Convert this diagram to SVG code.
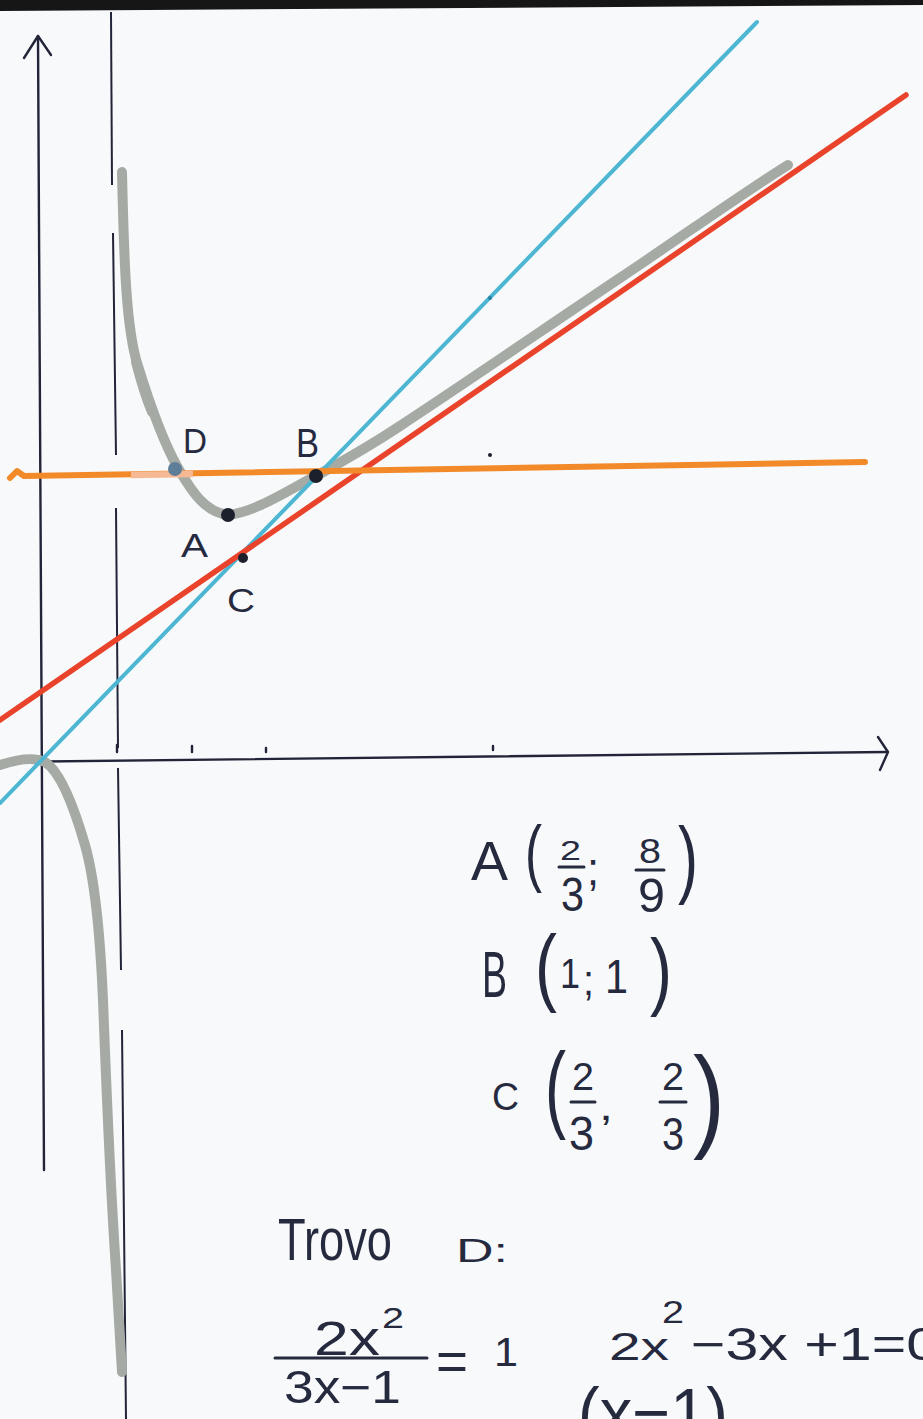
<svg xmlns="http://www.w3.org/2000/svg" width="923" height="1419" viewBox="0 0 923 1419">
<style>
.ink{fill:#262a3f;font-family:"Liberation Sans","DejaVu Sans",sans-serif}
.ax{stroke:#22253a;stroke-width:2.4;fill:none;stroke-linecap:round;stroke-linejoin:round}
.asy{stroke:#22253a;stroke-width:2;fill:none}
.curve{stroke:#a6aaa4;stroke-width:10;fill:none;stroke-linecap:round;stroke-linejoin:round}
.bar{stroke:#262a3f;stroke-width:3;stroke-linecap:round}
</style>
<rect width="923" height="1419" fill="#f8f9fa"/>
<polygon points="0,0 923,0 923,5 0,11" fill="#161616"/>

<g id="asymptote">
<line class="asy" x1="111" y1="12" x2="112" y2="185"/>
<line class="asy" x1="113" y1="233" x2="116" y2="455"/>
<line class="asy" x1="116" y1="508" x2="118" y2="748"/>
<line class="asy" x1="118" y1="768" x2="121" y2="970"/>
<line class="asy" x1="122" y1="1030" x2="126" y2="1419"/>
</g>

<g id="axes">
<path class="ax" d="M38,36 L44,1170"/>
<path class="ax" d="M24,58 L38,36 L51,55"/>
<path class="ax" d="M0,762 L886,752"/>
<path class="ax" d="M878,737 L888,752 L880,770"/>
<path class="ax" d="M117,752 V745 M192,752 V746 M266,752 V748 M493,750 V746"/>
</g>

<g id="curve">
<path class="curve" d="M122,172 C124,260 126,330 138,366 C150,405 165,445 178,468 C192,492 205,512 228,515 C255,512 285,492 316,476 C345,460 370,446 400,426 C470,380 560,318 620,278 C680,238 740,195 788,165"/>
<path class="curve" d="M136,362 C142,385 146,398 152,412" stroke="#8f948e"/>
<path class="curve" d="M0,765 C15,760 32,756 45,762 C58,770 72,800 85,845 C95,880 100,930 103,1000 C106,1080 110,1180 116,1270 L122,1372"/>
</g>

<g id="lines">
<line x1="0" y1="803" x2="757" y2="22" stroke="#4db6d3" stroke-width="4" stroke-linecap="round"/>
<line x1="0" y1="720" x2="906" y2="95" stroke="#e9432b" stroke-width="5.5" stroke-linecap="round"/>
<path d="M10,478 L17,471 L24,476 L865,462" stroke="#f28a2a" stroke-width="6" fill="none" stroke-linecap="round" stroke-linejoin="round"/>
<line x1="131" y1="475" x2="193" y2="474" stroke="#f7b994" stroke-width="6.5"/>
</g>

<g id="points">
<circle id="D" cx="175" cy="469" r="7" fill="#5d7d99"/>
<circle id="A" cx="228" cy="515" r="7" fill="#1c1f2c"/>
<circle id="B" cx="316" cy="476" r="7" fill="#1c1f2c"/>
<circle id="C" cx="243" cy="558" r="5" fill="#1c1f2c"/>
<circle cx="490" cy="455" r="2" fill="#1c1f2c"/>
<circle cx="490" cy="298" r="2" fill="#2a7fa0"/>
</g>

<g id="labels">
<text class="ink" x="183" y="453" font-size="35" textLength="24" lengthAdjust="spacingAndGlyphs">D</text>
<text class="ink" x="296" y="457" font-size="41" textLength="23" lengthAdjust="spacingAndGlyphs">B</text>
<text class="ink" x="181" y="557" font-size="33" textLength="27" lengthAdjust="spacingAndGlyphs">A</text>
<text class="ink" x="227" y="612" font-size="34" textLength="28" lengthAdjust="spacingAndGlyphs">C</text>
</g>

<g id="coordA">
<text class="ink" x="471" y="880" font-size="56" textLength="37" lengthAdjust="spacingAndGlyphs">A</text>
<text class="ink" x="525" y="878" font-size="75" textLength="17" lengthAdjust="spacingAndGlyphs">(</text>
<text class="ink" x="560" y="860" font-size="28" textLength="21" lengthAdjust="spacingAndGlyphs">2</text>
<line class="bar" x1="559" y1="867" x2="584" y2="867"/>
<text class="ink" x="561" y="911" font-size="48" textLength="23" lengthAdjust="spacingAndGlyphs">3</text>
<text class="ink" x="587" y="885" font-size="46" textLength="12" lengthAdjust="spacingAndGlyphs">;</text>
<text class="ink" x="639" y="863" font-size="35" textLength="22" lengthAdjust="spacingAndGlyphs">8</text>
<line class="bar" x1="636" y1="870" x2="664" y2="870"/>
<text class="ink" x="638" y="912" font-size="48" textLength="27" lengthAdjust="spacingAndGlyphs">9</text>
<text class="ink" x="678" y="887" font-size="85" textLength="20" lengthAdjust="spacingAndGlyphs">)</text>
</g>

<g id="coordB">
<text class="ink" x="482" y="997" font-size="64" textLength="25" lengthAdjust="spacingAndGlyphs">B</text>
<text class="ink" x="535" y="995" font-size="85" textLength="22" lengthAdjust="spacingAndGlyphs">(</text>
<text class="ink" x="560" y="988" font-size="42" textLength="20" lengthAdjust="spacingAndGlyphs">1</text>
<text class="ink" x="583" y="995" font-size="42" textLength="11" lengthAdjust="spacingAndGlyphs">;</text>
<text class="ink" x="605" y="993" font-size="48" textLength="23" lengthAdjust="spacingAndGlyphs">1</text>
<text class="ink" x="650" y="999" font-size="85" textLength="22" lengthAdjust="spacingAndGlyphs">)</text>
</g>

<g id="coordC">
<text class="ink" x="492" y="1110" font-size="38" textLength="27" lengthAdjust="spacingAndGlyphs">C</text>
<text class="ink" x="545" y="1120" font-size="96" textLength="21" lengthAdjust="spacingAndGlyphs">(</text>
<text class="ink" x="572" y="1090" font-size="38" textLength="22" lengthAdjust="spacingAndGlyphs">2</text>
<line class="bar" x1="571" y1="1102" x2="595" y2="1102"/>
<text class="ink" x="569" y="1150" font-size="48" textLength="25" lengthAdjust="spacingAndGlyphs">3</text>
<text class="ink" x="599" y="1120" font-size="40" textLength="14" lengthAdjust="spacingAndGlyphs">,</text>
<text class="ink" x="662" y="1090" font-size="38" textLength="22" lengthAdjust="spacingAndGlyphs">2</text>
<line class="bar" x1="660" y1="1102" x2="686" y2="1102"/>
<text class="ink" x="662" y="1150" font-size="46" textLength="22" lengthAdjust="spacingAndGlyphs">3</text>
<text class="ink" x="693" y="1136" font-size="114" textLength="32" lengthAdjust="spacingAndGlyphs">)</text>
</g>

<g id="solve">
<text class="ink" x="278" y="1260" font-size="60" textLength="114" lengthAdjust="spacingAndGlyphs">Trovo</text>
<text class="ink" x="456" y="1262" font-size="34" textLength="52" lengthAdjust="spacingAndGlyphs">D:</text>
<text class="ink" x="314" y="1355" font-size="48" textLength="66" lengthAdjust="spacingAndGlyphs">2x</text>
<text class="ink" x="382" y="1328" font-size="30" textLength="22" lengthAdjust="spacingAndGlyphs">2</text>
<line class="bar" x1="275" y1="1358" x2="427" y2="1358"/>
<text class="ink" x="284" y="1403" font-size="46" textLength="117" lengthAdjust="spacingAndGlyphs">3x−1</text>
<text class="ink" x="436" y="1380" font-size="56" textLength="32" lengthAdjust="spacingAndGlyphs">=</text>
<text class="ink" x="494" y="1366" font-size="40" textLength="24" lengthAdjust="spacingAndGlyphs">1</text>
<text class="ink" x="609" y="1360" font-size="38" textLength="60" lengthAdjust="spacingAndGlyphs">2x</text>
<text class="ink" x="662" y="1323" font-size="32" textLength="22" lengthAdjust="spacingAndGlyphs">2</text>
<text class="ink" x="691" y="1360" font-size="46" textLength="248" lengthAdjust="spacingAndGlyphs">−3x +1=0</text>
<text class="ink" x="578" y="1436" font-size="68" textLength="150" lengthAdjust="spacingAndGlyphs">(x−1)</text>
</g>
</svg>
